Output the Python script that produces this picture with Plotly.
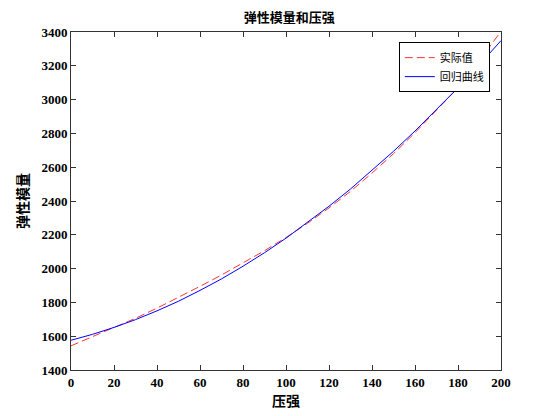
import plotly.graph_objects as go

# pressure values (x) and elastic modulus readings
pressure = [0, 10, 20, 30, 40, 50, 60, 70, 80, 90, 100,
            110, 120, 130, 140, 150, 160, 170, 180, 190, 200]
actual = [1543, 1596, 1649, 1706, 1766, 1829, 1895, 1962, 2033, 2106, 2184,
          2268, 2359, 2457, 2565, 2680, 2804, 2934, 3070, 3232, 3404]
fitted = [1576, 1611, 1652, 1698, 1750, 1807, 1871, 1939, 2014, 2094, 2180,
          2272, 2369, 2471, 2580, 2694, 2814, 2939, 3070, 3207, 3349]

x_ticks = list(range(0, 201, 20))
y_ticks = list(range(1400, 3401, 200))

num_font = dict(family="Liberation Serif", size=13, color="black", weight="bold")
cjk = "Noto Sans CJK SC"
label_font = dict(family=cjk, size=14, color="black", weight="bold")

fig = go.Figure()
fig.add_trace(go.Scatter(x=pressure, y=actual, mode="lines", name="实际值",
                         line=dict(color="#ff3333", dash="8px,4px", width=1)))
fig.add_trace(go.Scatter(x=pressure, y=fitted, mode="lines", name="回归曲线",
                         line=dict(color="blue", width=1)))

axis_style = dict(showline=True, linecolor="#333333", linewidth=1, mirror="ticks",
                  ticks="inside", ticklen=5, tickcolor="#333333", automargin=False,
                  showgrid=False, zeroline=False, tickfont=num_font)

fig.update_xaxes(range=[0, 200], tickvals=x_ticks, **axis_style,
                 title=dict(text="压强", font=label_font, standoff=2))
fig.update_yaxes(range=[1400, 3400], tickvals=y_ticks, **axis_style)

# y label as an annotation so it can sit further left than the axis title would
fig.add_annotation(text="弹性模量", xref="paper", yref="paper", x=-0.114, y=0.5,
                   xanchor="center", yanchor="middle", textangle=-90,
                   showarrow=False, font=label_font)

# the page sits 8px in from the window corner, so the figure is 8px smaller each way
fig.update_layout(
    width=546, height=408,
    margin=dict(l=63, r=53, t=24, b=46),
    paper_bgcolor="white", plot_bgcolor="white",
    title=dict(text="弹性模量和压强", x=0.515, xanchor="center", y=0.978, yanchor="middle",
               font=dict(family=cjk, size=13, color="black", weight="bold")),
    legend=dict(x=0.974, y=0.97, xanchor="right", yanchor="top",
                bgcolor="white", bordercolor="black", borderwidth=1,
                font=dict(family=cjk, size=11, color="black"),
                tracegroupgap=0, itemwidth=30),
    showlegend=True,
)

fig.write_html("out.html")
